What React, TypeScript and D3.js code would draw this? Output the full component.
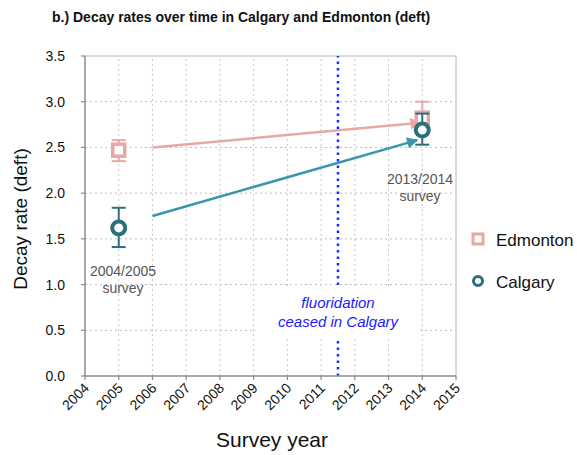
import React from "react";
import * as d3 from "d3";

const years = [2004, 2005, 2006, 2007, 2008, 2009, 2010, 2011, 2012, 2013, 2014, 2015];
const yTicks = [0, 0.5, 1.0, 1.5, 2.0, 2.5, 3.0, 3.5];
const surveyYears = [2005, 2014];
const edmonton = [2.47, 2.82];
const edmontonLow = [2.35, 2.65];
const edmontonHigh = [2.58, 3.0];
const calgary = [1.62, 2.69];
const calgaryLow = [1.41, 2.53];
const calgaryHigh = [1.84, 2.87];
const edmontonArrow = [[2006, 2.5], [2013.95, 2.77]];
const calgaryArrow = [[2006, 1.75], [2013.85, 2.58]];
const fluoridationYear = 2011.5;

const EDM = "#e6a7a5";
const CAL = "#2b6e7c";
const CAL_ARROW = "#3a97a9";

export default function App() {
  const x = d3.scaleLinear().domain([2004, 2015]).range([85, 456]);
  const y = d3.scaleLinear().domain([0, 3.5]).range([376, 56]);
  const font = "Arial, 'Liberation Sans', sans-serif";

  const arrow = (pts: number[][], color: string, id: string) => (
    <line
      x1={x(pts[0][0])}
      y1={y(pts[0][1])}
      x2={x(pts[1][0])}
      y2={y(pts[1][1])}
      stroke={color}
      strokeWidth={2.5}
      markerEnd={`url(#${id})`}
    />
  );

  return (
    <svg width={577} height={455} style={{ position: "absolute", left: 0, top: 0 }} fontFamily={font}>
      <defs>
        <marker id="aE" viewBox="0 0 10 10" refX={9} refY={5} markerWidth={5} markerHeight={4.5} orient="auto" markerUnits="strokeWidth">
          <path d="M0,0 L10,5 L0,10 z" fill={EDM} />
        </marker>
        <marker id="aC" viewBox="0 0 10 10" refX={9} refY={5} markerWidth={5} markerHeight={4.5} orient="auto" markerUnits="strokeWidth">
          <path d="M0,0 L10,5 L0,10 z" fill={CAL_ARROW} />
        </marker>
      </defs>
      <rect width={577} height={455} fill="#fff" />
      <text x={52} y={22} fontSize={14} fontWeight="bold" fill="#111">
        b.) Decay rates over time in Calgary and Edmonton (deft)
      </text>

      {/* grid */}
      {yTicks.slice(1, -1).map((t) => (
        <line key={"gy" + t} x1={x(2004)} x2={x(2015)} y1={y(t)} y2={y(t)} stroke="#bdbdbd" strokeDasharray="2,3" strokeWidth={1} />
      ))}
      {years.slice(1, -1).map((t) => (
        <line key={"gx" + t} x1={x(t)} x2={x(t)} y1={y(0)} y2={y(3.5)} stroke="#c8c8c8" strokeDasharray="2,3" strokeWidth={1} />
      ))}
      {/* frame */}
      <line x1={x(2004)} x2={x(2015)} y1={y(3.5)} y2={y(3.5)} stroke="#cfcfcf" strokeWidth={1.5} />
      <line x1={x(2015)} x2={x(2015)} y1={y(0)} y2={y(3.5)} stroke="#cfcfcf" strokeWidth={1.5} />

      {/* fluoridation line */}
      <line x1={x(fluoridationYear)} x2={x(fluoridationYear)} y1={y(0)} y2={y(3.5)} stroke="#1a2cff" strokeWidth={2.5} strokeDasharray="2.5,4" />

      {/* fluoridation label box */}
      <rect x={x(2009) + 2} y={287} width={x(2014) - x(2009) - 4} height={52} fill="#fff" />
      <text x={338} y={308} textAnchor="middle" fontSize={15} fontStyle="italic" fill="#1a1aff">fluoridation</text>
      <text x={338} y={327} textAnchor="middle" fontSize={15} fontStyle="italic" fill="#1a1aff">ceased in Calgary</text>

      {/* axes */}
      <line x1={x(2004)} x2={x(2004)} y1={y(0)} y2={y(3.5)} stroke="#8c8c8c" strokeWidth={1.5} />
      <line x1={x(2004)} x2={x(2015)} y1={y(0)} y2={y(0)} stroke="#8c8c8c" strokeWidth={1.5} />
      {yTicks.map((t) => (
        <g key={"yt" + t}>
          <line x1={x(2004) - 4} x2={x(2004)} y1={y(t)} y2={y(t)} stroke="#8c8c8c" strokeWidth={1.2} />
          <text x={x(2004) - 20} y={y(t) + 5} textAnchor="end" fontSize={14} fill="#111">
            {t.toFixed(1)}
          </text>
        </g>
      ))}
      {years.map((t) => (
        <g key={"xt" + t}>
          <line x1={x(t)} x2={x(t)} y1={y(0)} y2={y(0) + 4} stroke="#8c8c8c" strokeWidth={1.2} />
          <text
            transform={`translate(${x(t) + 5},${y(0) + 13}) rotate(-45)`}
            textAnchor="end"
            fontSize={14}
            fill="#111"
          >
            {t}
          </text>
        </g>
      ))}

      {/* arrows */}
      {arrow(edmontonArrow, EDM, "aE")}
      {arrow(calgaryArrow, CAL_ARROW, "aC")}

      {/* Edmonton */}
      {surveyYears.map((yr, i) => (
        <g key={"e" + yr}>
          <line x1={x(yr)} x2={x(yr)} y1={y(edmontonLow[i])} y2={y(edmontonHigh[i])} stroke={EDM} strokeWidth={2} />
          <line x1={x(yr) - 7} x2={x(yr) + 7} y1={y(edmontonLow[i])} y2={y(edmontonLow[i])} stroke={EDM} strokeWidth={2} />
          <line x1={x(yr) - 7} x2={x(yr) + 7} y1={y(edmontonHigh[i])} y2={y(edmontonHigh[i])} stroke={EDM} strokeWidth={2} />
          <rect x={x(yr) - 6} y={y(edmonton[i]) - 6} width={12} height={12} fill="#fff" stroke={EDM} strokeWidth={3.5} />
        </g>
      ))}
      {/* Calgary */}
      {surveyYears.map((yr, i) => (
        <g key={"c" + yr}>
          <line x1={x(yr)} x2={x(yr)} y1={y(calgaryLow[i])} y2={y(calgaryHigh[i])} stroke={CAL} strokeWidth={2} />
          <line x1={x(yr) - 7} x2={x(yr) + 7} y1={y(calgaryLow[i])} y2={y(calgaryLow[i])} stroke={CAL} strokeWidth={2} />
          <line x1={x(yr) - 7} x2={x(yr) + 7} y1={y(calgaryHigh[i])} y2={y(calgaryHigh[i])} stroke={CAL} strokeWidth={2} />
          <circle cx={x(yr)} cy={y(calgary[i])} r={6.5} fill="#fff" stroke={CAL} strokeWidth={4} />
        </g>
      ))}

      {/* annotations */}
      <text x={123} y={276} textAnchor="middle" fontSize={14} fill="#555">2004/2005</text>
      <text x={123} y={293} textAnchor="middle" fontSize={14} fill="#555">survey</text>
      <text x={420} y={184} textAnchor="middle" fontSize={14} fill="#555">2013/2014</text>
      <text x={420} y={201} textAnchor="middle" fontSize={14} fill="#555">survey</text>

      {/* legend */}
      <rect x={473} y={234} width={10} height={10} fill="#fff" stroke={EDM} strokeWidth={3} />
      <text x={496} y={246} fontSize={17} fill="#111">Edmonton</text>
      <circle cx={478} cy={281} r={4.5} fill="#fff" stroke={CAL} strokeWidth={3} />
      <text x={496} y={288} fontSize={17} fill="#111">Calgary</text>

      {/* axis titles */}
      <text transform={`translate(27,219) rotate(-90)`} textAnchor="middle" fontSize={19} fill="#111">
        Decay rate (deft)
      </text>
      <text x={272} y={447} textAnchor="middle" fontSize={21} fill="#111">Survey year</text>
    </svg>
  );
}
